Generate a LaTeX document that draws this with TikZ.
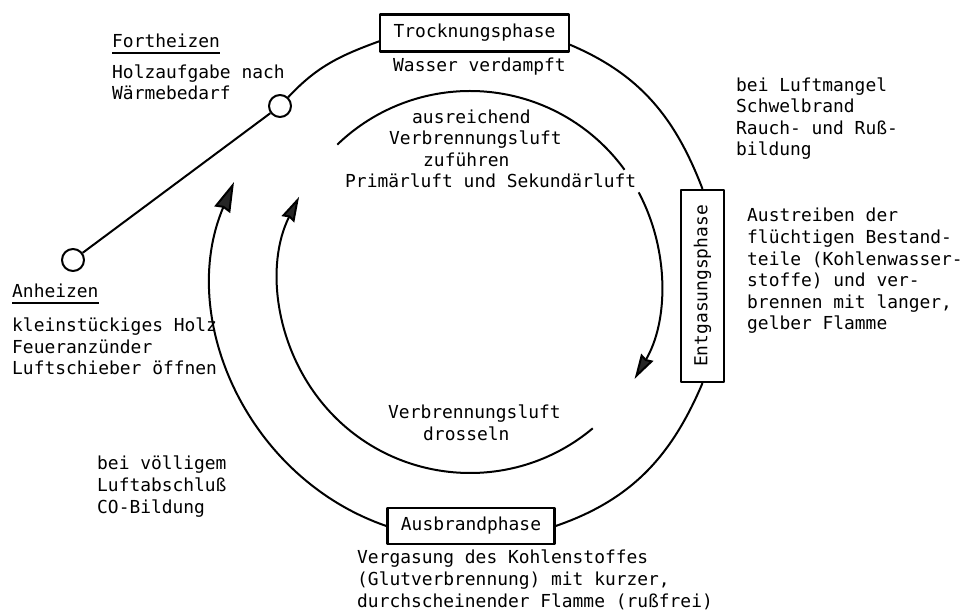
\documentclass[tikz,border=0pt]{standalone}
\usepackage{fontspec}
\setmainfont{DejaVu Sans Mono}
\usetikzlibrary{arrows.meta}

\begin{document}
\begin{tikzpicture}[x=1pt,y=1pt,line join=bevel,
  font=\fontsize{17.9pt}{21.6pt}\selectfont,
  phase/.style={draw,line width=2.2pt,fill=white,inner xsep=13.5pt,inner ysep=0pt,minimum height=37pt},
  hole/.style={circle,draw,line width=2pt,fill=white,inner sep=0pt,minimum size=22pt},
  txt/.style={anchor=base west,inner sep=0pt,align=left},
  ring/.style={line width=2pt},
  flow/.style={line width=2pt,-{Stealth[length=25pt,width=14pt,inset=2pt,fill=black!85]}},
  bigflow/.style={line width=2pt,-{Stealth[length=30pt,width=17pt,inset=2pt,fill=black!85]}},
  ]
%%
\useasboundingbox (0,0) rectangle (961,611);
\coordinate (ring_mid) at (470,329);
\coordinate (ring_end) at (234,429);
\node (phase_dry) at (474.5,578) [phase] {Trocknungsphase};
\node (phase_gas) at (702.5,325) [phase,inner sep=0pt,minimum width=43pt,minimum height=192pt] {\rotatebox{90}{Entgasungsphase}};
\node (phase_burn) at (471,85) [phase,minimum height=36pt] {Ausbrandphase};
\node (hole_fort) at (280,505) [hole] {};
\node (hole_start) at (73,351) [hole] {};
%
\draw [ring] (hole_start) -- (hole_fort);
\draw [ring] (hole_fort) to[out=47,in=200] (phase_dry.185);
\draw [ring] (phase_dry.-7) to[out=-23,in=111] (phase_gas.north);
\draw [ring] (phase_gas.south) to[out=-113,in=19] (phase_burn.east);
\draw [bigflow] (phase_burn.west) to[out=161,in=247] (ring_end);
\draw [ring] ([shift={(134:191)}]ring_mid) arc[start angle=134,end angle=36,radius=191];
\draw [flow] ([shift={(28:191)}]ring_mid) arc[start angle=28,end angle=-30.5,radius=191];
\draw [flow] ([shift={(-50:191)}]ring_mid) arc[start angle=-50,end angle=-206.5,radius=191];
%
\node (lbl_fort) at (112,563) [txt] {Fortheizen};
\draw [line width=1.6pt] ([yshift=-5pt]lbl_fort.base west) -- ([yshift=-5pt]lbl_fort.base east);
\node (txt_fort) at (112,511) [txt] {Holzaufgabe nach\\Wärmebedarf};
\node (lbl_start) at (12,313) [txt] {Anheizen};
\draw [line width=1.6pt] ([yshift=-5pt]lbl_start.base west) -- ([yshift=-5pt]lbl_start.base east);
\node (txt_start) at (12,236) [txt] {kleinstückiges Holz\\Feueranzünder\\Luftschieber öffnen};
\node (txt_co) at (97,98) [txt] {bei völligem\\Luftabschluß\\CO-Bildung};
\node (txt_dry) at (393,539) [txt] {Wasser verdampft};
\node (txt_more) at (345,423) [txt] {\hspace*{67pt}ausreichend\\\hspace*{44pt}Verbrennungsluft\\\hspace*{78pt}zuführen\\Primärluft und Sekundärluft};
\node (txt_less) at (388,171) [txt] {Verbrennungsluft\\\hspace*{35pt}drosseln};
\node (txt_lack) at (736,455) [txt] {bei Luftmangel\\Schwelbrand\\Rauch- und Ruß-\\bildung};
\node (txt_gas) at (747,281) [txt] {Austreiben der\\flüchtigen Bestand-\\teile (Kohlenwasser-\\stoffe) und ver-\\brennen mit langer,\\gelber Flamme};
\node (txt_burn) at (357,4) [txt] {Vergasung des Kohlenstoffes\\(Glutverbrennung) mit kurzer,\\durchscheinender Flamme (rußfrei)};
%
\end{tikzpicture}
\end{document}
